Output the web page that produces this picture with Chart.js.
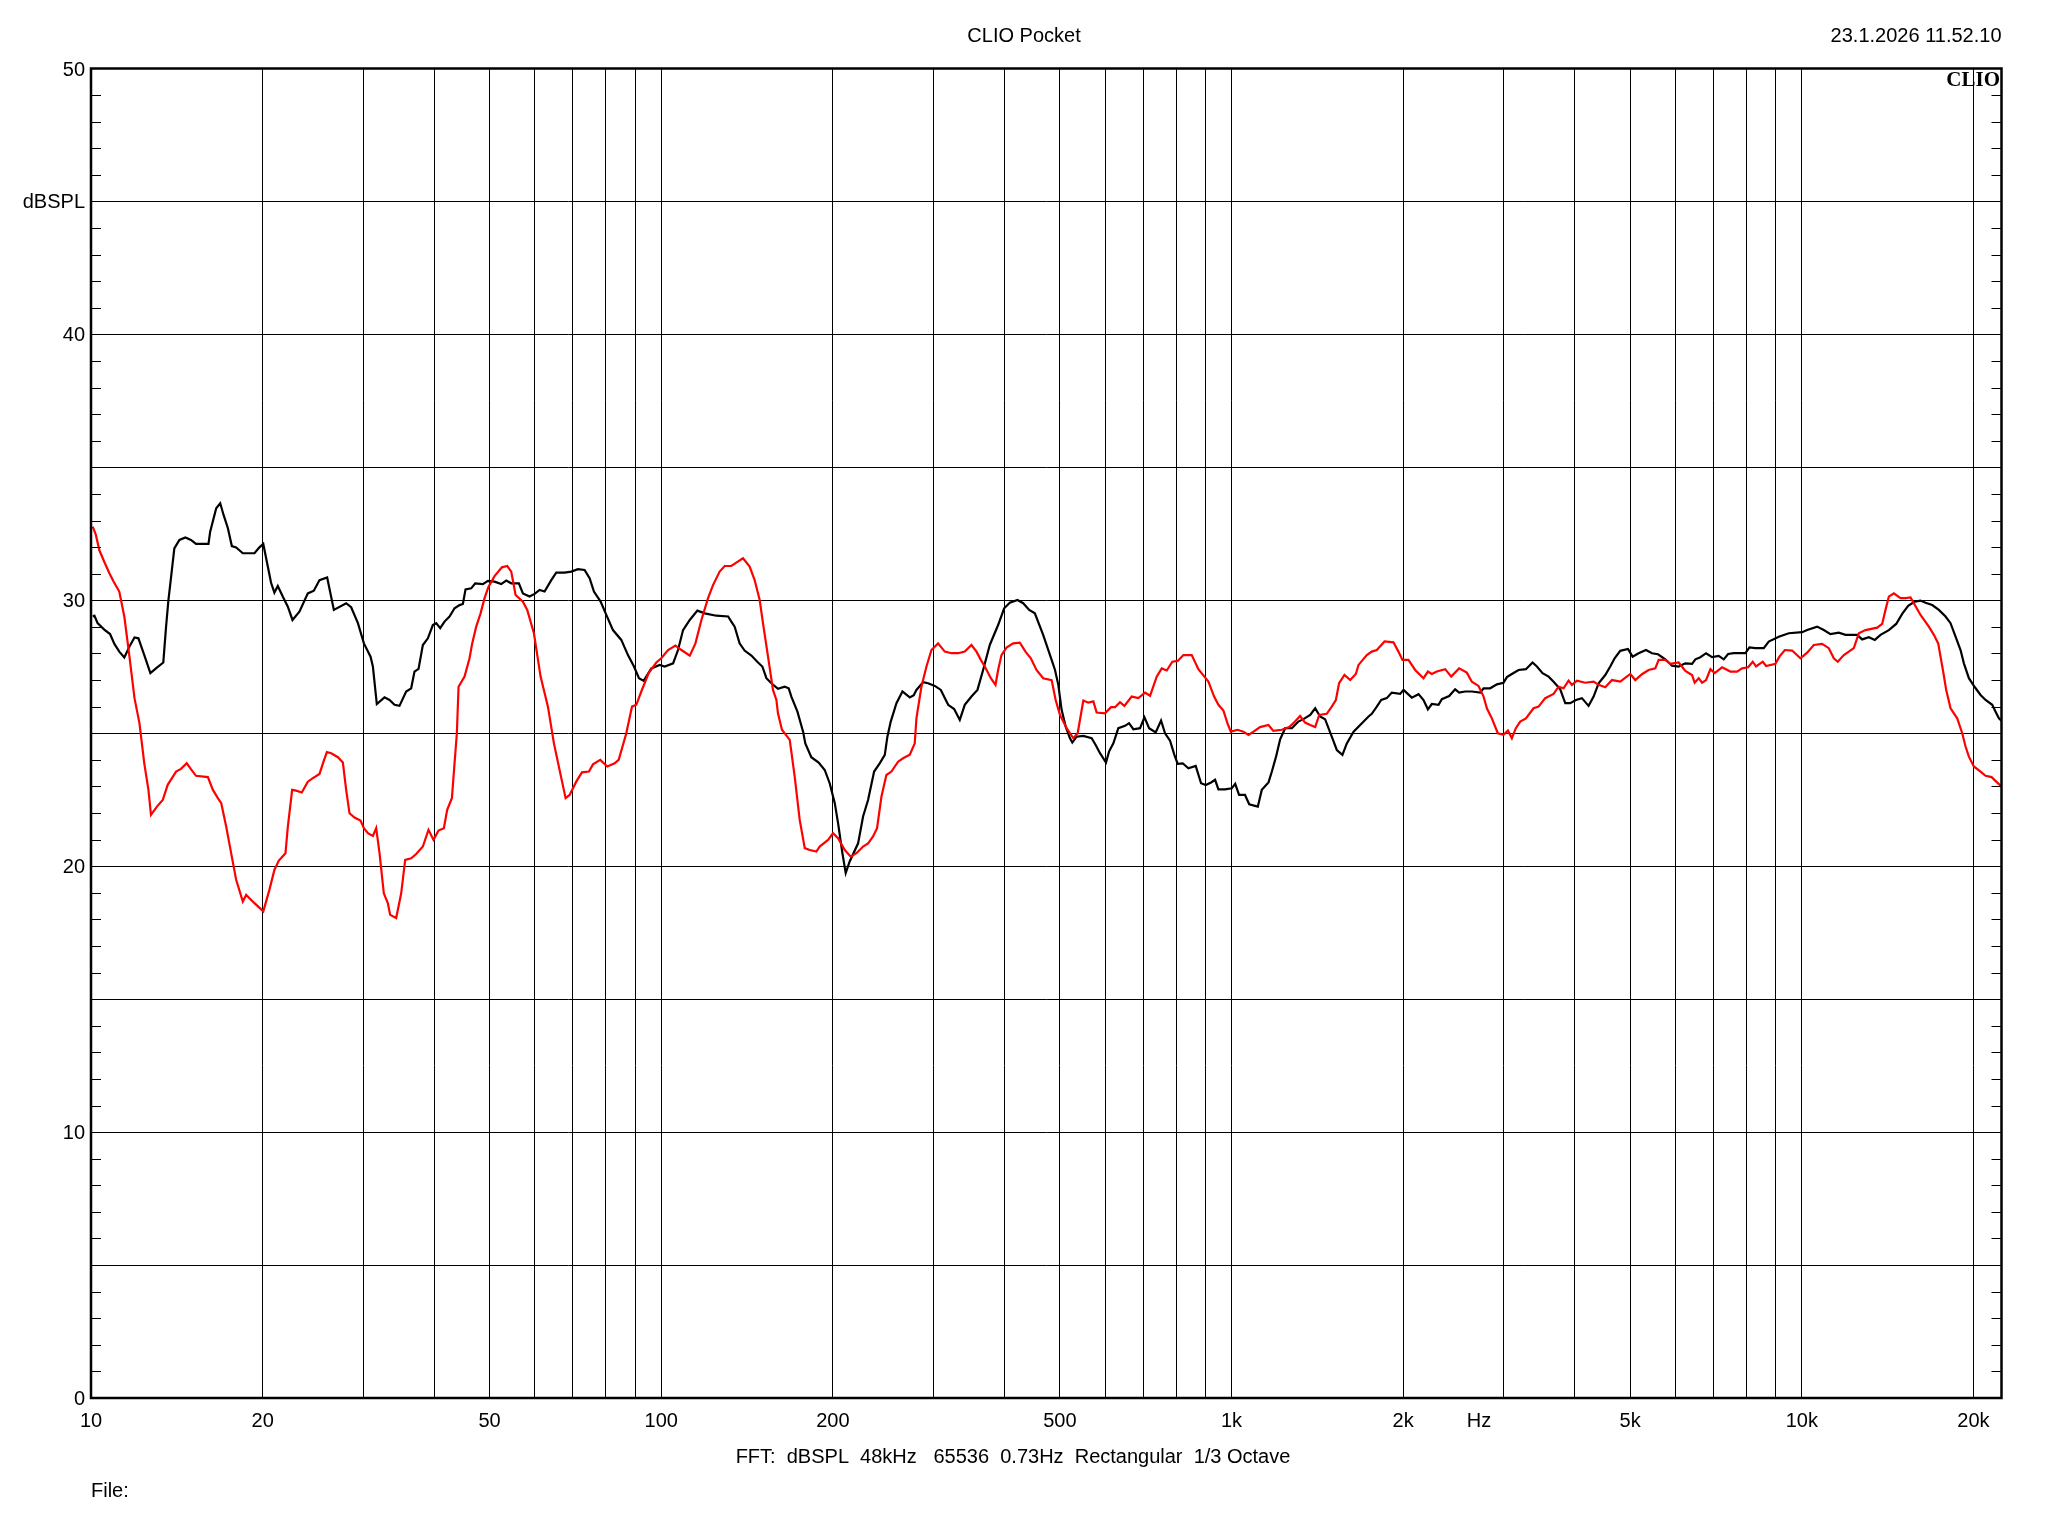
<!DOCTYPE html>
<html>
<head>
<meta charset="utf-8">
<title>CLIO Pocket</title>
<script src="https://cdn.jsdelivr.net/npm/chart.js@4.4.1/dist/chart.umd.min.js"></script>
<style>
    html, body { margin: 0; padding: 0; background: #fff; }
    #wrap { width: 2048px; height: 1536px; }
</style>
</head>
<body>
<div id="wrap"><canvas id="clioChart" width="2048" height="1536"></canvas></div>
<script>
const blackFreq = [
    10.07, 10.14, 10.27, 10.55, 10.80, 10.99, 11.21, 11.44, 11.68, 11.92, 12.11, 12.40, 12.71, 13.00, 13.39, 13.54, 13.67, 13.82, 14.00, 14.29,
    14.64, 14.97, 15.28, 16.07, 16.18, 16.58, 16.85, 17.08, 17.38, 17.66, 17.97, 18.46, 19.35, 19.74, 20.05, 20.42, 20.69, 20.97, 21.26, 21.69,
    22.14, 22.56, 23.20, 24.00, 24.59, 25.16, 25.95, 26.66, 28.02, 28.59, 29.38, 30.10, 30.92, 31.21, 31.71, 32.71, 33.38, 34.06, 34.75, 35.70,
    36.43, 36.92, 37.53, 38.19, 38.97, 39.76, 40.30, 40.96, 41.68, 42.53, 43.40, 44.29, 44.89, 45.37, 46.42, 47.18, 48.66, 49.66, 51.01, 52.40,
    53.47, 54.57, 56.28, 57.20, 58.76, 59.96, 61.18, 62.43, 64.14, 65.44, 67.69, 69.54, 71.43, 73.38, 74.88, 76.20, 78.28, 80.10, 82.28, 85.10,
    87.42, 89.57, 91.40, 93.14, 96.07, 99.35, 101.4, 104.9, 107.0, 109.2, 112.2, 115.7, 119.2, 124.9, 131.0,
    132.7, 134.5, 137.2, 140.0, 143.9, 147.8, 150.4, 152.9, 156.0, 160.2, 164.6, 167.3, 169.1, 173.3, 177.3, 178.9, 183.3, 188.8, 193.5, 197.4,
    201.5, 204.2, 207.8, 210.6, 214.0, 221.4, 225.9, 230.5, 236.2, 241.6, 246.6, 249.2, 252.6, 258.5, 264.8, 272.8, 277.2, 280.2, 287.9, 293.7,
    301.8, 309.2, 318.5, 326.3, 333.8, 340.6, 349.9, 358.5, 366.8, 376.8, 389.7, 399.3, 408.5, 421.4, 431.2, 441.8, 452.0, 467.4,
    483.7, 490.3, 496.9, 503.6, 511.9, 520.9, 525.8, 535.1, 549.7, 568.5, 577.8, 588.0, 602.4, 609.8, 620.6, 633.2, 650.5, 661.1, 672.8, 691.2,
    703.6, 717.0, 736.3, 752.4, 764.6, 780.2, 794.0, 804.7, 821.1, 840.2, 865.4, 884.3, 901.1, 920.8, 935.8, 948.5, 974.3, 1001, 1015, 1031,
    1056, 1074, 1112, 1130, 1161, 1177, 1197, 1217, 1242, 1276, 1310, 1337, 1374, 1402, 1430, 1459, 1495, 1530, 1565, 1593,
    1637, 1693, 1739,
    1762, 1798, 1830, 1872, 1910, 1976, 2003, 2071, 2128, 2171, 2210, 2245, 2307, 2338, 2408, 2467, 2507, 2569, 2639, 2730,
    2767, 2842, 2920, 2999, 3040, 3102, 3187, 3283, 3372, 3432, 3511, 3598, 3671, 3771, 3848, 3926, 4018, 4116, 4228, 4315,
    4403, 4523, 4615, 4697, 4805, 4957, 5051, 5175, 5331, 5462, 5596, 5764, 5921, 6083, 6249,
    6421, 6508, 6641, 6795, 6961, 7151, 7298, 7427, 7598, 7965, 8095, 8293, 8577, 8752, 9113, 9489, 10014, 10220, 10640, 10930,
    11228, 11613, 11930, 12506, 12761, 13110, 13431, 13742, 14213, 14640, 15000, 15367, 15787, 16153, 16483, 16933, 17395, 17870, 18234, 18607,
    18986, 19244, 19636, 20118, 20584, 21004, 21578, 21870, 22167, 22468
];
const blackDb = [
    29.39, 29.42, 29.14, 28.90, 28.73, 28.36, 28.07, 27.85, 28.26, 28.60, 28.57, 27.94, 27.26, 27.44, 27.66, 29.00, 30.01, 30.89, 31.95, 32.27,
    32.36, 32.27, 32.12, 32.12, 32.58, 33.46, 33.65, 33.21, 32.71, 32.04, 31.99, 31.77, 31.77, 31.99, 32.12, 31.27, 30.66, 30.29, 30.54, 30.14,
    29.76, 29.26, 29.57, 30.26, 30.36, 30.76, 30.86, 29.64, 29.89, 29.74, 29.14, 28.38, 27.88, 27.51, 26.10, 26.35, 26.25, 26.07, 26.03, 26.57,
    26.69, 27.32, 27.42, 28.32, 28.57, 29.07, 29.14, 28.95, 29.20, 29.39, 29.70, 29.82, 29.86, 30.41, 30.45, 30.64, 30.61, 30.73, 30.70, 30.61,
    30.74, 30.64, 30.64, 30.26, 30.14, 30.24, 30.39, 30.33, 30.76, 31.04, 31.04, 31.08, 31.17, 31.14, 30.83, 30.33, 29.95, 29.45, 28.88, 28.51,
    27.94, 27.51, 27.07, 26.97, 27.44, 27.57, 27.51, 27.63, 28.13, 28.88, 29.26, 29.61, 29.51, 29.42, 29.39,
    29.20, 29.01, 28.38, 28.11, 27.92, 27.66, 27.51, 27.07, 26.88, 26.67, 26.75, 26.69, 26.38, 25.81, 25.06, 24.62, 24.10, 23.90, 23.62, 23.12,
    22.37, 21.62, 20.49, 19.74, 20.18, 20.86, 21.87, 22.49, 23.56, 23.87, 24.19, 24.87, 25.44, 26.13, 26.57, 26.35, 26.43, 26.63, 26.92, 26.88,
    26.78, 26.63, 26.07, 25.91, 25.50, 26.07, 26.38, 26.63, 27.38, 28.32, 29.07, 29.70, 29.91, 30.01, 29.89, 29.64, 29.51, 28.70,
    27.76, 27.38, 26.82, 25.88, 25.25, 24.81, 24.65, 24.87, 24.90, 24.81, 24.56, 24.25, 23.90, 24.31, 24.62, 25.19, 25.28, 25.38, 25.15, 25.19,
    25.60, 25.19, 25.03, 25.48, 25.00, 24.72, 24.19, 23.85, 23.87, 23.68, 23.77, 23.12, 23.05, 23.15, 23.25, 22.89, 22.89, 22.93, 23.10, 22.68,
    22.68, 22.33, 22.24, 22.87, 23.15, 23.56, 24.12, 24.77, 25.19, 25.19, 25.44, 25.53, 25.69, 25.94, 25.63, 25.53, 24.94, 24.37, 24.19, 24.62,
    25.06, 25.38, 25.63,
    25.73, 26.00, 26.25, 26.32, 26.53, 26.48, 26.63, 26.34, 26.47, 26.25, 25.90, 26.10, 26.07, 26.28, 26.40, 26.65, 26.53, 26.57, 26.57, 26.53,
    26.69, 26.69, 26.84, 26.90, 27.11, 27.23, 27.38, 27.41, 27.66, 27.51, 27.26, 27.13, 26.94, 26.65, 26.13, 26.13, 26.25, 26.32, 26.03, 26.38,
    26.88, 27.19, 27.51, 27.82, 28.10, 28.17, 27.88, 28.01, 28.13, 28.01, 27.97, 27.78, 27.54, 27.51, 27.63,
    27.61, 27.78, 27.86, 28.01, 27.86, 27.91, 27.78, 27.98, 28.01, 28.01, 28.23, 28.20, 28.20, 28.45, 28.63, 28.76, 28.80, 28.88, 29.01, 28.88,
    28.73, 28.78, 28.70, 28.70, 28.53, 28.61, 28.51, 28.70, 28.88, 29.11, 29.49, 29.79, 29.95, 29.99, 29.91, 29.82, 29.64, 29.39, 29.14, 28.63,
    28.13, 27.63, 27.07, 26.73, 26.44, 26.25, 26.07, 25.81, 25.56, 25.44
];

const redFreq = [
    10.07, 10.20, 10.34, 10.55, 10.77, 10.96, 11.21, 11.44, 11.68, 11.92, 12.16, 12.40, 12.61, 12.74, 13.05, 13.36, 13.63, 14.10, 14.38, 14.72,
    14.97, 15.28, 16.03, 16.36, 16.69, 16.92, 17.26, 17.61, 17.97, 18.46, 18.71, 19.35, 20.05, 20.55, 20.97, 21.35, 21.93, 22.14, 22.53, 22.89,
    23.42, 24.00, 24.49, 25.16, 25.57, 25.92, 26.38, 27.10, 27.65, 28.02, 28.40, 28.98, 29.69, 30.10, 30.59, 31.21, 31.63, 32.06, 32.62, 33.15,
    33.47, 34.29, 34.99, 35.56,
    36.43, 37.17, 38.19, 39.07, 39.87, 40.68, 41.57, 42.13, 42.94, 43.40, 43.81, 44.11, 45.19, 46.11, 46.61, 47.37, 48.21, 48.99, 49.79, 51.01,
    52.55, 53.69, 54.57, 55.53, 57.20, 58.21, 59.80, 61.43, 63.28, 64.83, 66.33, 67.96, 69.07, 70.95, 72.60, 74.68, 75.90, 78.17, 80.43, 82.84,
    84.21, 86.84, 88.85, 90.42, 92.26, 95.04, 98.03, 100.0, 102.8, 105.9, 108.5, 112.2, 114.8, 117.6, 120.8, 123.3, 126.6, 129.2,
    132.7, 135.4, 139.1, 142.9, 145.8, 148.8, 150.8, 153.9, 157.0, 159.2, 160.2, 162.8, 168.0, 171.4, 174.9, 178.5, 182.1, 187.1, 189.6, 196.1,
    200.1, 204.2, 209.8, 214.9, 219.9, 225.9, 230.5, 235.2, 239.0, 243.3, 248.2, 253.3, 260.2, 265.5, 272.8, 278.3, 280.2, 285.9, 291.8, 297.7,
    305.8, 314.2, 322.8, 331.6, 340.6, 349.9, 357.1, 363.4, 369.3, 378.4, 385.6, 389.7, 395.0, 403.1, 414.1, 425.4, 435.2, 444.7, 455.0, 467.4,
    483.7, 491.6, 500.2, 513.9, 528.0, 537.3, 549.7, 560.9, 572.4, 580.1, 600.0, 614.7, 624.8, 637.5, 648.8, 668.3, 686.5, 705.3, 719.7, 739.3,
    754.4, 769.9, 787.6, 804.7, 823.4, 851.6, 874.8, 896.3, 910.9, 932.2, 948.5, 967.8, 983.6, 997.0, 1025, 1049, 1071, 1093, 1122, 1161,
    1184, 1225, 1262, 1284, 1319, 1346, 1374, 1402, 1425, 1469, 1499, 1524, 1544, 1578, 1615, 1652, 1670, 1727,
    1762, 1798, 1855, 1923, 1962, 1994, 2043, 2099, 2171, 2210, 2245, 2291, 2370, 2428, 2507, 2586, 2639, 2711, 2767, 2804,
    2861, 2931, 2999, 3053, 3102, 3152, 3208, 3283, 3386, 3455, 3549, 3671, 3746, 3822, 3900, 3953, 4034, 4172, 4315, 4403,
    4523, 4647, 4805, 5004, 5106, 5245, 5388, 5536, 5611, 5764, 5881, 6083, 6249, 6376,
    6421, 6490, 6596, 6686, 6795, 6915, 7037, 7248, 7496, 7701, 7858, 8052, 8204, 8316, 8542, 8659, 8991, 9137, 9340, 9618,
    9947, 10220, 10497, 10857, 11153, 11381, 11564, 11851, 12092, 12339, 12591, 12934, 13559, 13835, 14023, 14213, 14503, 14899, 15203, 15513,
    15724, 16153, 16706, 17047, 17348, 17680, 17918, 18234, 18732, 19114, 19374, 19636, 20036, 20584, 21004, 21520, 21929, 22468
];
const redDb = [
    32.77, 32.46, 31.89, 31.45, 31.02, 30.70, 30.33, 29.39, 27.88, 26.32, 25.38, 23.87, 22.87, 21.93, 22.24, 22.49, 23.06, 23.56, 23.66, 23.87,
    23.65, 23.40, 23.35, 22.87, 22.56, 22.37, 21.49, 20.49, 19.49, 18.67, 18.92, 18.61, 18.30, 19.11, 19.86, 20.21, 20.49, 21.49, 22.87, 22.84,
    22.77, 23.18, 23.31, 23.47, 23.93, 24.29, 24.25, 24.10, 23.90, 22.87, 21.99, 21.83, 21.72, 21.43, 21.24, 21.14, 21.43, 20.49, 18.98, 18.61,
    18.17, 18.05, 18.98, 20.24,
    20.30, 20.46, 20.74, 21.37, 20.99, 21.34, 21.43, 22.12, 22.56, 23.87, 25.00, 26.75, 27.13, 27.82, 28.38, 29.01, 29.51, 30.08, 30.51, 30.91,
    31.24, 31.29, 31.08, 30.20, 29.95, 29.64, 28.76, 27.13, 26.00, 24.62, 23.62, 22.56, 22.68, 23.18, 23.53, 23.56, 23.83, 24.00, 23.75, 23.87,
    24.00, 25.00, 26.00, 26.07, 26.57, 27.26, 27.66, 27.82, 28.13, 28.30, 28.13, 27.92, 28.38, 29.26, 30.08, 30.58, 31.08, 31.29,
    31.29, 31.42, 31.58, 31.27, 30.76, 30.01, 29.14, 27.88, 26.63, 26.25, 25.75, 25.13, 24.75, 23.37, 21.74, 20.68, 20.61, 20.55, 20.74, 20.99,
    21.24, 21.05, 20.61, 20.36, 20.49, 20.74, 20.86, 21.12, 21.43, 22.62, 23.43, 23.56, 23.93, 24.06, 24.19, 24.62, 25.56, 26.75, 27.51, 28.13,
    28.38, 28.07, 28.01, 28.01, 28.07, 28.32, 28.07, 27.76, 27.51, 27.07, 26.82, 27.38, 27.94, 28.22, 28.38, 28.41, 28.07, 27.82, 27.38, 27.07,
    27.00, 26.25, 25.69, 25.19, 24.81, 25.00, 26.23, 26.15, 26.20, 25.78, 25.75, 25.98, 25.98, 26.17, 26.03, 26.38, 26.32, 26.53, 26.41, 27.13,
    27.44, 27.36, 27.69, 27.72, 27.94, 27.94, 27.41, 27.13, 26.94, 26.38, 26.07, 25.85, 25.38, 25.06, 25.13, 25.06, 24.94, 25.06, 25.23, 25.31,
    25.09, 25.13, 25.23, 25.38, 25.65, 25.40, 25.31, 25.23, 25.69, 25.73, 26.00, 26.25, 26.88, 27.19, 27.00, 27.23, 27.57, 27.94,
    28.07, 28.13, 28.45, 28.42, 28.07, 27.76, 27.76, 27.38, 27.07, 27.32, 27.23, 27.32, 27.41, 27.13, 27.44, 27.28, 26.94, 26.78, 26.38, 25.94,
    25.56, 25.00, 24.94, 25.10, 24.81, 25.19, 25.44, 25.56, 25.94, 26.00, 26.32, 26.48, 26.75, 26.69, 26.98, 26.82, 26.98, 26.90, 26.94, 26.82,
    26.73, 27.00, 26.94, 27.23, 27.00, 27.22, 27.38, 27.44, 27.76, 27.76, 27.61, 27.66, 27.34, 27.23,
    27.19, 26.90, 27.07, 26.90, 27.00, 27.41, 27.26, 27.48, 27.32, 27.32, 27.44, 27.48, 27.69, 27.51, 27.69, 27.53, 27.61, 27.88, 28.13, 28.11,
    27.82, 28.03, 28.32, 28.36, 28.20, 27.82, 27.69, 27.94, 28.07, 28.20, 28.76, 28.88, 28.97, 29.11, 29.64, 30.14, 30.26, 30.08, 30.08, 30.11,
    29.89, 29.45, 29.01, 28.70, 28.38, 27.38, 26.63, 25.94, 25.56, 25.00, 24.50, 24.12, 23.75, 23.56, 23.40, 23.35, 23.18, 22.97
];

// Axis: vertical grid at 1-2-3..9 per decade (none between 10k and 20k)
const gridFreqs = [
    10, 20, 30, 40, 50, 60, 70, 80, 90,
    100, 200, 300, 400, 500, 600, 700, 800, 900,
    1000, 2000, 3000, 4000, 5000, 6000, 7000, 8000, 9000,
    10000, 20000
];
const HZ_TICK = 2716; // where the "Hz" unit label sits
const xLabels = { 10: '10', 20: '20', 50: '50', 100: '100', 200: '200', 500: '500', 1000: '1k', 2000: '2k', 2716: 'Hz', 5000: '5k', 10000: '10k', 20000: '20k' };
const yLabels = { 0: '0', 10: '10', 20: '20', 30: '30', 40: '40', 45: 'dBSPL', 50: '50' };

const titleText = 'CLIO Pocket';
const dateText = '23.1.2026 11.52.10';
const footerText = 'FFT:  dBSPL  48kHz   65536  0.73Hz  Rectangular  1/3 Octave';
const fileText = 'File:';

const FONT = "'Liberation Sans', Arial, sans-serif";

function toPoints(freqs, dbs) {
    return freqs.map((f, i) => ({ x: f, y: dbs[i] }));
}

// frame, minor dB ticks and the free texts
const clioDecor = {
    id: 'clioDecor',
    afterDatasetsDraw(chart) {
        const { ctx, chartArea: a } = chart;
        const y = chart.scales.y;
        ctx.save();
        ctx.strokeStyle = '#000';
        ctx.lineWidth = 1;
        ctx.beginPath();
        for (let v = 1; v < 50; v++) {
            if (v % 5 === 0) continue;
            const py = Math.round(y.getPixelForValue(v)) + 0.5;
            ctx.moveTo(a.left, py); ctx.lineTo(a.left + 10, py);
            ctx.moveTo(a.right - 10, py); ctx.lineTo(a.right, py);
        }
        ctx.stroke();
        ctx.lineWidth = 2.5;
        ctx.strokeRect(a.left, a.top, a.right - a.left, a.bottom - a.top);

        ctx.fillStyle = '#000';
        ctx.textBaseline = 'alphabetic';
        ctx.font = '20px ' + FONT;
        ctx.textAlign = 'center';
        ctx.fillText(titleText, 1024, 41.5);
        ctx.fillText(footerText, 1013, 1463);
        ctx.textAlign = 'right';
        ctx.fillText(dateText, a.right, 41.5);
        ctx.textAlign = 'left';
        ctx.fillText(fileText, a.left, 1497);

        ctx.font = "bold 21px 'Liberation Serif', 'Times New Roman', serif";
        ctx.textAlign = 'right';
        ctx.fillText('CLIO', a.right - 1.5, 86);
        ctx.restore();
    }
};

Chart.defaults.font.family = FONT;
Chart.defaults.font.size = 20;
Chart.defaults.color = '#000';

new Chart(document.getElementById('clioChart'), {
    type: 'line',
    data: {
        datasets: [
            {
                label: 'red',
                data: toPoints(redFreq, redDb),
                borderColor: '#ff0000',
                borderWidth: 2.2,
                pointRadius: 0,
                tension: 0,
                fill: false
            },
            {
                label: 'black',
                data: toPoints(blackFreq, blackDb),
                borderColor: '#000000',
                borderWidth: 2.2,
                pointRadius: 0,
                tension: 0,
                fill: false
            }
        ]
    },
    options: {
        responsive: false,
        devicePixelRatio: 1,
        animation: false,
        parsing: false,
        layout: { padding: { top: 68.5, right: 46.5, left: 0, bottom: 0 } },
        plugins: { legend: { display: false }, tooltip: { enabled: false } },
        scales: {
            x: {
                type: 'logarithmic',
                min: 10,
                max: 22400,
                afterBuildTicks: (scale) => {
                    const vals = gridFreqs.concat([HZ_TICK]).sort((p, q) => p - q);
                    scale.ticks = vals.map(v => ({ value: v }));
                },
                afterFit: (scale) => { scale.height = 138; },
                ticks: {
                    autoSkip: false,
                    maxRotation: 0,
                    padding: 11,
                    callback: (v) => xLabels[v] || ''
                },
                grid: {
                    drawTicks: false,
                    lineWidth: 1,
                    color: (c) => (c.tick && c.tick.value === HZ_TICK) ? 'rgba(0,0,0,0)' : '#000'
                },
                border: { display: false }
            },
            y: {
                min: 0,
                max: 50,
                afterFit: (scale) => { scale.width = 91; },
                ticks: {
                    stepSize: 1,
                    autoSkip: false,
                    padding: 6,
                    labelOffset: 1.5,
                    callback: (v) => (yLabels[v] !== undefined ? yLabels[v] : '')
                },
                grid: {
                    drawTicks: false,
                    lineWidth: 1,
                    color: (c) => (c.tick && c.tick.value % 5 === 0) ? '#000' : 'rgba(0,0,0,0)'
                },
                border: { display: false }
            }
        }
    },
    plugins: [clioDecor]
});
</script>
</body>
</html>
